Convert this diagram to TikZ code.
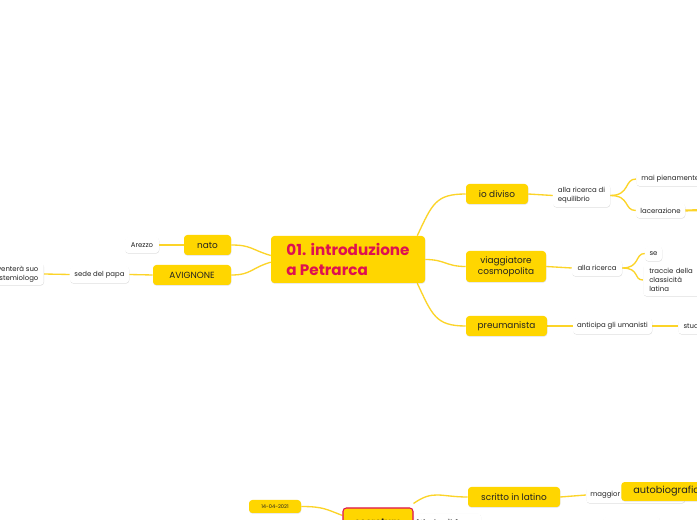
\documentclass[tikz,border=0pt]{standalone}
\usepackage{fontspec}
\setmainfont{Poppins}
\newfontfamily\seriffam{Liberation Serif}
\usetikzlibrary{shadows,backgrounds,calc}
\definecolor{ylw}{RGB}{255,214,0}
\definecolor{lnk}{RGB}{252,212,40}
\definecolor{crim}{RGB}{222,16,80}
\definecolor{txt}{RGB}{34,34,34}
\newcommand\bx[7]{\node[#6, minimum width={(#4-#2)*0.75pt}, minimum height={(#5-#3)*0.75pt}] (#1) at ({(#2+#4)/2},{(#3+#5)/2}) {#7};}
\begin{document}
\begin{tikzpicture}[x=0.75pt,y=-0.75pt,
  shad/.style={drop shadow={shadow xshift=0.2pt, shadow yshift=-0.5pt, opacity=0.13, fill=black}},
  ybox/.style={fill=ylw, rounded corners=2.5pt, inner sep=0pt, text=txt, font=\fontsize{6.7}{8.6}\selectfont, align=center, shad},
  wbox/.style={fill=white, rounded corners=2.5pt, inner sep=0pt, text=txt, font=\fontsize{5.2}{7}\selectfont, align=left, shad},
  conn/.style={draw=lnk, line width=1pt}]
\useasboundingbox (0,0) rectangle (697,520);
% central
\bx{c}{271}{236}{425}{283}{ybox, text=crim, font=\bfseries\fontsize{11.4}{14.4}\selectfont, align=left}{01. introduzione\\a Petrarca}
% right main branches
\bx{io}{466}{184}{528}{204}{ybox}{io diviso}
\bx{vc}{466}{251}{546}{282}{ybox}{viaggiatore\\cosmopolita}
\bx{pre}{466}{316}{547}{336}{ybox}{preumanista}
% left branches
\bx{nato}{184}{235}{231}{255}{ybox}{nato}
\bx{avi}{153}{265}{231}{285}{ybox}{AVIGNONE}
\bx{arezzo}{125}{237}{159}{253}{wbox}{Arezzo}
\bx{sede}{70}{266}{129}{283}{wbox}{sede del papa}
\node[wbox, anchor=east, align=right, inner xsep=4pt, minimum height=16.5pt] (dive) at (44,274) {diventerà suo\\epistemiologo};
% io diviso
\bx{eq}{553}{184}{610}{207}{wbox}{alla ricerca di\\equilibrio}
\node[wbox, anchor=west, inner xsep=3.8pt, minimum height=10.5pt] (mai) at (636,179) {mai pienamente};
\bx{lac}{636}{203}{685}{218}{wbox}{lacerazione}
\coordinate (lacout) at (705,210);
% viaggiatore
\bx{ar}{572}{260}{622}{276}{wbox}{alla ricerca}
\bx{se}{645}{246}{662}{261}{wbox}{se}
\node[wbox, anchor=west, inner xsep=4.5pt, minimum height=24pt, text width=36pt] (tr) at (643,280) {traccie della\\classicità\\latina};
% preumanista
\bx{ant}{573}{318}{652}{334}{wbox}{anticipa gli umanisti}
\node[wbox, anchor=west, inner xsep=4pt, minimum height=12pt, text width=40pt] (stud) at (678,326) {studi};
% bottom
\bx{scr}{468}{487}{560}{507}{ybox}{scritto in latino}
\node[wbox, anchor=west, inner xsep=3pt, minimum height=12pt, text width=68pt] (mag) at (586,495) {maggior};
\node[ybox, anchor=west, inner xsep=9pt, minimum height=14.2pt, font=\fontsize{7.3}{9}\selectfont] (auto) at (621,491.5) {autobiografico};
\bx{sec}{343}{508}{413}{536}{ybox, draw=crim, line width=0.8pt, font=\bfseries\fontsize{7}{9}\selectfont}{secretum}
\node[wbox, anchor=north west, inner xsep=2pt, inner ysep=1pt, minimum height=14pt, text width=46pt, font=\seriffam\fontsize{6.6}{8}\selectfont] (wv) at (414,513) {W. vita di Laura};
\bx{date}{249}{500}{301}{513}{ybox, font=\fontsize{3.8}{5}\selectfont}{14-04-2021}
\bx{extra}{603}{517}{660}{535}{wbox}{}
\begin{pgfonlayer}{background}
\fill[white] (0,0) rectangle (697,520);
\draw[conn] ([xshift=-6pt]c.north east) .. controls +(15,-32) and +(-30,0) .. (io.west);
\draw[conn] (c.east) .. controls +(20,0) and +(-20,0) .. (vc.west);
\draw[conn] ([xshift=-6pt]c.south east) .. controls +(15,32) and +(-30,0) .. (pre.west);
\draw[conn] ([yshift=3pt]c.west) .. controls +(-20,-6) and +(20,0) .. (nato.east);
\draw[conn] ([yshift=-2pt]c.west) .. controls +(-20,6) and +(20,0) .. (avi.east);
\draw[conn] (nato.west) -- (arezzo.east);
\draw[conn] (avi.west) -- (sede.east);
\draw[conn] (sede.west) -- (dive.east);
\draw[conn] (io.east) -- (eq.west);
\draw[conn] (eq.east) .. controls +(20,0) and +(-12,0) .. (mai.west);
\draw[conn] (eq.east) .. controls +(20,0) and +(-12,0) .. (lac.west);
\draw[conn, line width=1.6pt] (lac.east) -- (lacout);
\draw[conn] (vc.east) -- (ar.west);
\draw[conn] (ar.east) .. controls +(18,0) and +(-10,0) .. (se.west);
\draw[conn] (ar.east) .. controls +(18,0) and +(-10,0) .. (tr.west);
\draw[conn] (pre.east) -- (ant.west);
\draw[conn] (ant.east) -- (stud.west);
\draw[conn] (scr.east) -- (mag.west);
\draw[conn] ([yshift=3pt]sec.north east) .. controls +(20,-14) and +(-28,0) .. (scr.west);
\draw[conn] (date.east) .. controls +(22,0) and +(-16,-6) .. ([yshift=-6pt]sec.north west);
\end{pgfonlayer}
\end{tikzpicture}
\end{document}
